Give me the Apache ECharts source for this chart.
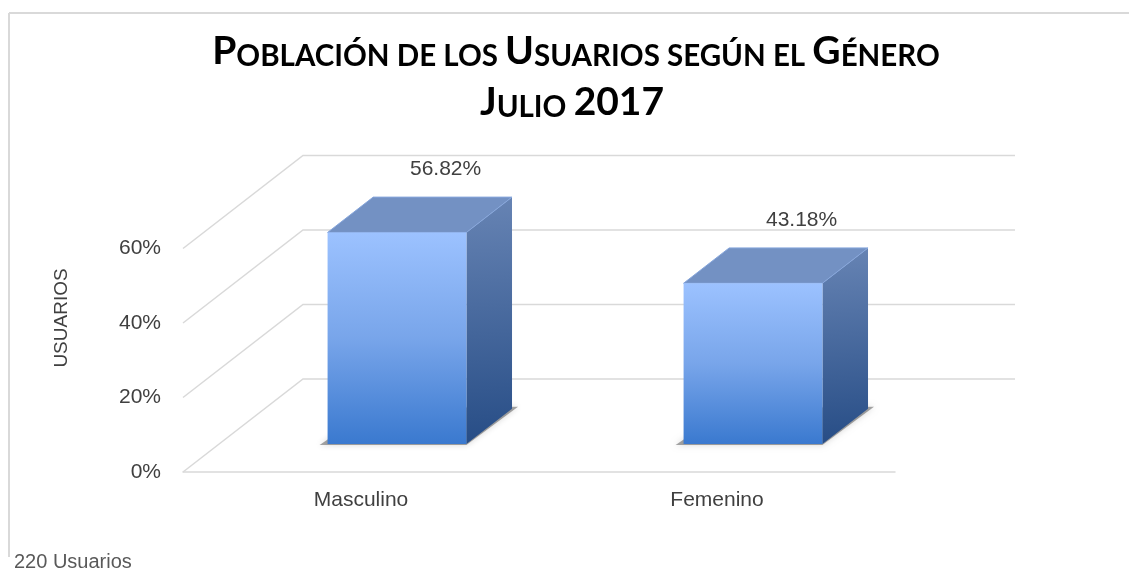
<!DOCTYPE html>
<html>
<head>
<meta charset="utf-8">
<script src="https://cdn.jsdelivr.net/npm/echarts@6/dist/echarts.min.js"></script>
<style>
  html, body { margin: 0; padding: 0; background: #fff; }
  #main { width: 1129px; height: 571px; }
</style>
</head>
<body>
<div id="main"></div>
<script>
  // datos
  var categorias = ['Masculino', 'Femenino'];
  var porcentajes = [56.82, 43.18];
  var ticksY = [0, 20, 40, 60];
  var totalUsuarios = '220 Usuarios';

  // profundidad del "3D" (en px)
  var DX = 120, DY = -93;
  var T0 = 0.30, T1 = 0.68;   // la barra ocupa esta franja de la profundidad
  var ANCHO = 0.39;           // ancho de barra respecto a la categoria
  var FUENTE = '"Liberation Sans", Arial, sans-serif';

  var myChart = echarts.init(document.getElementById('main'));

  function pared(params, api) {
    var cs = params.coordSys;
    var y = api.coord([0, api.value(1)])[1];
    var x0 = cs.x, x1 = cs.x + cs.width;
    return {
      type: 'polyline',
      shape: { points: [[x0, y], [x0 + DX, y + DY], [x1 + DX, y + DY]] },
      style: { stroke: '#d9d9d9', lineWidth: 1.5, fill: null },
      silent: true
    };
  }

  function barra3d(params, api) {
    var idx = api.value(0);
    var val = api.value(1);
    var base = api.coord([idx, 0]);
    var top = api.coord([idx, val]);
    var w = api.size([1, 0])[0] * ANCHO;
    var ox = T0 * DX, oy = T0 * DY;
    var dx = (T1 - T0) * DX, dy = (T1 - T0) * DY;
    var xl = base[0] - w / 2 + ox, xr = base[0] + w / 2 + ox;
    var yb = base[1] + oy, yt = top[1] + oy;

    // sombra suave sobre el piso
    var sombra = {
      type: 'polygon',
      shape: { points: [[xl - 8, yb + 1], [xr, yb + 1], [xr + dx + 6, yb + dy - 2], [xl + dx, yb + dy]] },
      style: { fill: 'rgba(60,60,60,0.45)', shadowBlur: 6, shadowColor: 'rgba(0,0,0,0.35)' }
    };
    var lado = {
      type: 'polygon',
      shape: { points: [[xr, yt], [xr + dx, yt + dy], [xr + dx, yb + dy], [xr, yb]] },
      style: {
        fill: new echarts.graphic.LinearGradient(0, 0, 0.3, 1, [
          { offset: 0, color: '#6784b4' },
          { offset: 1, color: '#274d86' }
        ])
      }
    };
    var tapa = {
      type: 'polygon',
      shape: { points: [[xl, yt], [xr, yt], [xr + dx, yt + dy], [xl + dx, yt + dy]] },
      style: { fill: '#7391c3', stroke: '#86a6dc', lineWidth: 1 }
    };
    var frente = {
      type: 'rect',
      shape: { x: xl, y: yt, width: xr - xl, height: yb - yt },
      style: {
        fill: new echarts.graphic.LinearGradient(0, 0, 0, 1, [
          { offset: 0, color: '#9cc2ff' },
          { offset: 0.5, color: '#78a5ea' },
          { offset: 1, color: '#3a79cf' }
        ])
      }
    };
    var etiqueta = {
      type: 'text',
      style: {
        text: val.toFixed(2) + '%',
        x: base[0] + T1 * DX + 3,
        y: top[1] + T1 * DY - 28,
        align: 'center',
        verticalAlign: 'middle',
        fill: '#404040',
        font: '21px ' + FUENTE
      }
    };
    return { type: 'group', children: [sombra, lado, tapa, frente, etiqueta] };
  }

  var estiloTitulo = {
    rich: {
      b: { fontFamily: 'Lato', fontWeight: 'bold', fontSize: 39, lineHeight: 39, color: '#000', verticalAlign: 'bottom' },
      s: { fontFamily: 'Lato', fontWeight: 'bold', fontSize: 29.5, lineHeight: 29.5, color: '#000', verticalAlign: 'bottom' }
    }
  };

  var option = {
    animation: false,
    backgroundColor: '#ffffff',
    title: [
      {
        text: '{b|P}{s|OBLACIÓN DE LOS }{b|U}{s|SUARIOS SEGÚN EL }{b|G}{s|ÉNERO}',
        left: 576, top: 32, textAlign: 'center', padding: 0,
        textStyle: estiloTitulo
      },
      {
        text: '{b|J}{s|ULIO }{b|2017}',
        left: 572, top: 83, textAlign: 'center', padding: 0,
        textStyle: estiloTitulo
      }
    ],
    grid: { left: 183, right: 234, top: 248.5, bottom: 99 },
    xAxis: {
      type: 'category',
      data: categorias,
      axisLine: { lineStyle: { color: '#d9d9d9', width: 1.5 } },
      axisTick: { show: false },
      axisLabel: { color: '#404040', fontFamily: FUENTE, fontSize: 21, margin: 18 }
    },
    yAxis: {
      type: 'value',
      min: ticksY[0],
      max: ticksY[ticksY.length - 1],
      interval: ticksY[1] - ticksY[0],
      axisLine: { show: false },
      axisTick: { show: false },
      splitLine: { show: false },
      axisLabel: { formatter: '{value}%', color: '#404040', fontFamily: FUENTE, fontSize: 21, margin: 22 }
    },
    graphic: [
      { type: 'line', shape: { x1: 9, y1: 13, x2: 1129, y2: 13 }, style: { stroke: '#d9d9d9', lineWidth: 2 } },
      { type: 'line', shape: { x1: 9, y1: 13, x2: 9, y2: 557 }, style: { stroke: '#d9d9d9', lineWidth: 2 } },
      {
        type: 'text', x: 62, y: 318, rotation: Math.PI / 2,
        style: { text: 'USUARIOS', align: 'center', verticalAlign: 'middle', fill: '#404040', font: '19px ' + FUENTE }
      },
      {
        type: 'text', x: 14, y: 562,
        style: { text: totalUsuarios, align: 'left', verticalAlign: 'middle', fill: '#595959', font: '20px ' + FUENTE }
      }
    ],
    series: [
      {
        type: 'custom',
        renderItem: pared,
        data: ticksY.map(function (v) { return [0, v]; }),
        encode: { x: 0, y: 1 },
        z: 1,
        silent: true
      },
      {
        type: 'custom',
        renderItem: barra3d,
        data: porcentajes.map(function (v, i) { return [i, v]; }),
        encode: { x: 0, y: 1 },
        z: 3
      }
    ]
  };
  myChart.setOption(option);
</script>
</body>
</html>
